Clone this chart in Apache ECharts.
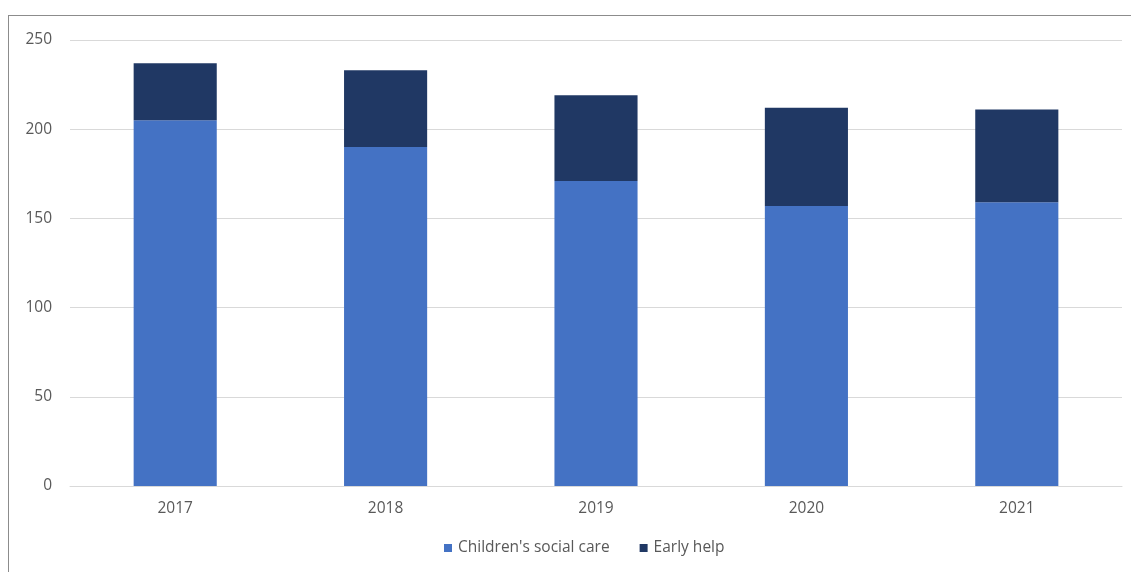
<!DOCTYPE html>
<html>
<head>
<meta charset="utf-8">
<script src="https://cdn.jsdelivr.net/npm/echarts@6/dist/echarts.min.js"></script>
<style>
    html, body { margin: 0; padding: 0; background: #fff; }
    #frame { position: absolute; left: 8px; top: 15px; width: 1130px; height: 564px; border: 1px solid #8c8c8c; box-sizing: border-box; }
    #mainChart { position: absolute; left: 0; top: 0; width: 1131px; height: 572px; }
</style>
</head>
<body>
<div id="frame"></div>
<div id="mainChart"></div>
<script>
// 年份
var years = ['2017', '2018', '2019', '2020', '2021'];
// 各系列数值
var socialCare = [205, 190, 171, 157, 159];
var earlyHelp = [32, 43, 48, 55, 52];
var yTicks = [0, 50, 100, 150, 200, 250];

var myChart = echarts.init(document.getElementById('mainChart'));
var textColor = '#595959';
var fontFamily = '"Open Sans", "Noto Sans", sans-serif';

var option = {
    animation: false,
    color: ['#4472c4', '#203864'],
    grid: {
        left: 70,
        right: 9,
        top: 40,
        bottom: 86
    },
    legend: {
        bottom: 11,
        left: 439,
        itemWidth: 8,
        itemHeight: 8,
        itemGap: 30,
        icon: 'rect',
        textStyle: { color: textColor, fontSize: 15.5, fontFamily: fontFamily, padding: [0, 0, 0, 1] },
        data: ["Children's social care", 'Early help']
    },
    xAxis: {
        type: 'category',
        data: years,
        axisLine: { lineStyle: { color: '#d9d9d9' } },
        axisTick: { show: false },
        axisLabel: { color: textColor, fontSize: 15.5, fontFamily: fontFamily, margin: 15 }
    },
    yAxis: {
        type: 'value',
        min: yTicks[0],
        max: yTicks[yTicks.length - 1],
        interval: 50,
        axisLine: { show: false },
        axisTick: { show: false },
        splitLine: { lineStyle: { color: '#d9d9d9' } },
        axisLabel: { color: textColor, fontSize: 15.5, fontFamily: fontFamily, margin: 18 }
    },
    series: [
        {
            name: "Children's social care",
            type: 'bar',
            stack: 'total',
            barWidth: '39.5%',
            data: socialCare
        },
        {
            name: 'Early help',
            type: 'bar',
            stack: 'total',
            data: earlyHelp
        }
    ]
};
myChart.setOption(option, true);
</script>
</body>
</html>
